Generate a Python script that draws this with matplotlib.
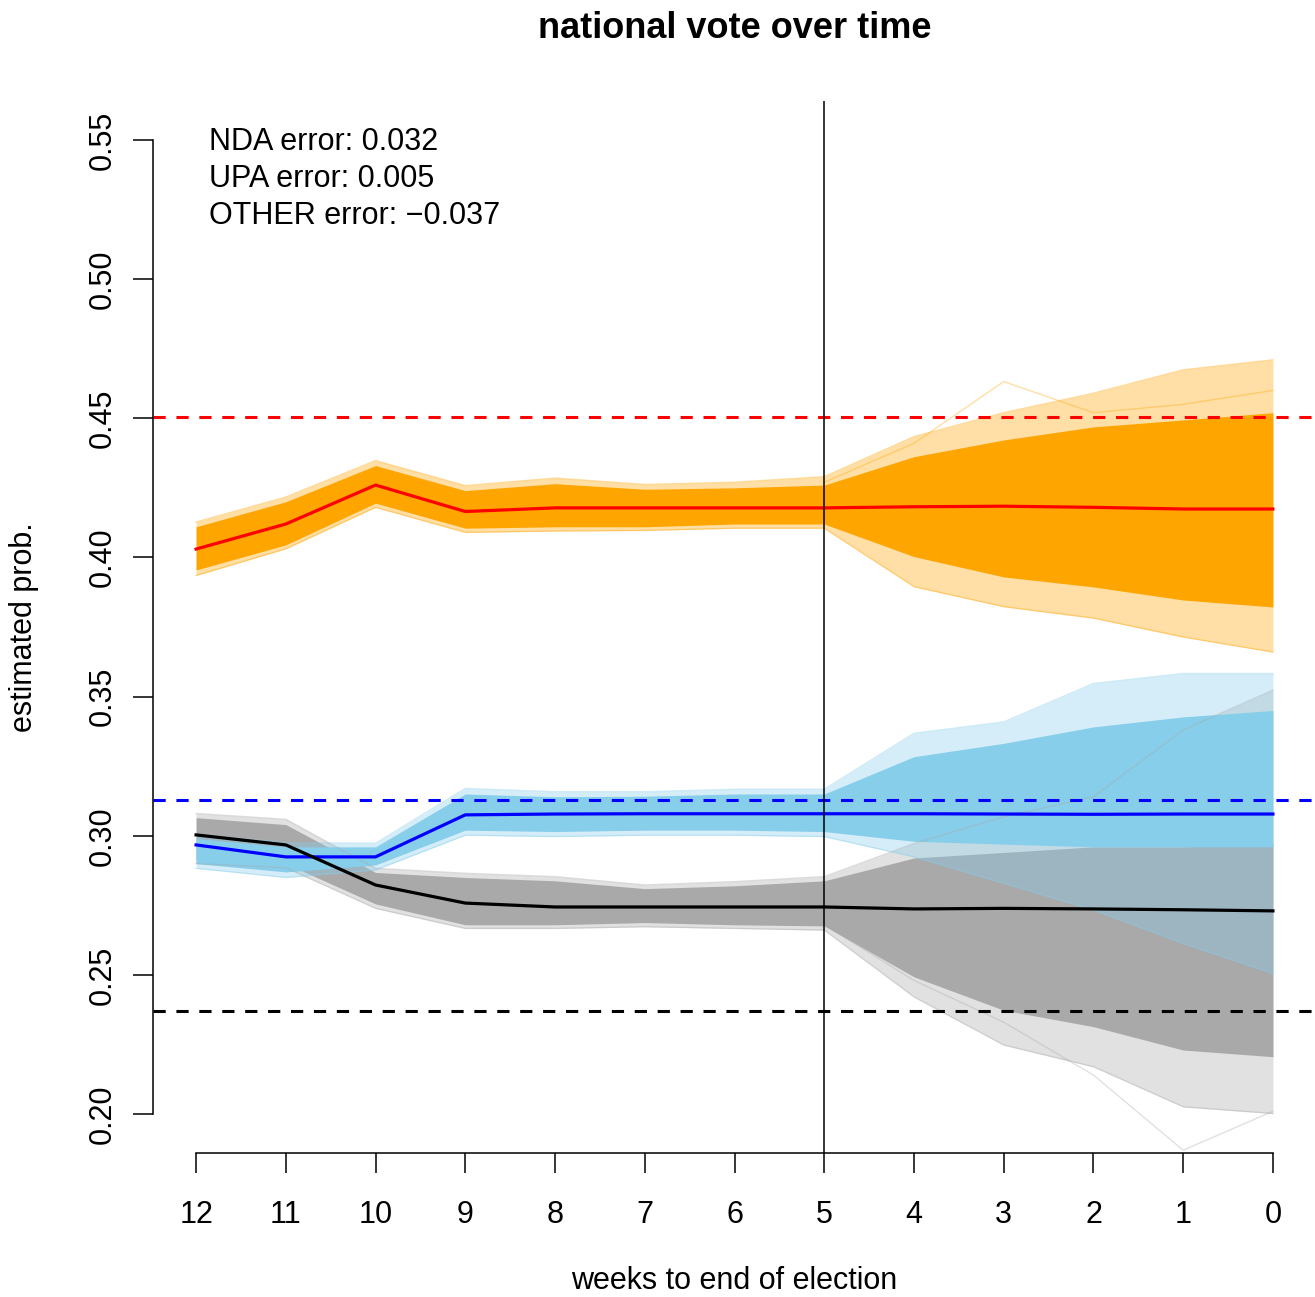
import numpy as np
import matplotlib
matplotlib.use('Agg')
import matplotlib.pyplot as plt

plt.rcParams['font.family'] = ['Liberation Sans', 'DejaVu Sans']

weeks = [12, 11, 10, 9, 8, 7, 6, 5, 4, 3, 2, 1, 0]

# NDA (orange simulations, red mean)
nda_mean = [0.403, 0.412, 0.426, 0.4165, 0.4178, 0.4178, 0.4178, 0.4178, 0.4182, 0.4184, 0.418, 0.4174, 0.4174]
nda_hi = [0.4127, 0.4217, 0.4348, 0.4258, 0.4285, 0.4262, 0.427, 0.429, 0.4434, 0.452, 0.459, 0.4674, 0.471]
nda_lo = [0.3935, 0.4031, 0.418, 0.409, 0.4095, 0.4097, 0.4105, 0.4105, 0.3895, 0.3823, 0.3782, 0.3714, 0.366]
nda_core_hi = [0.411, 0.420, 0.433, 0.424, 0.4265, 0.4245, 0.425, 0.426, 0.4362, 0.4422, 0.4469, 0.4494, 0.452]
nda_core_lo = [0.3955, 0.4045, 0.4195, 0.4105, 0.411, 0.411, 0.412, 0.412, 0.4003, 0.393, 0.3894, 0.3847, 0.3822]
nda_result = 0.4505

# UPA (skyblue simulations, blue mean)
upa_mean = [0.2967, 0.2924, 0.2924, 0.3075, 0.3078, 0.3079, 0.3079, 0.3079, 0.3079, 0.3078, 0.3077, 0.3078, 0.3078]
upa_hi = [0.3005, 0.2975, 0.2973, 0.317, 0.3158, 0.3158, 0.3167, 0.3167, 0.3368, 0.3409, 0.3547, 0.3583, 0.3583]
upa_lo = [0.2883, 0.2850, 0.2877, 0.3002, 0.2997, 0.3002, 0.3002, 0.2997, 0.2924, 0.2829, 0.2733, 0.2613, 0.2505]
upa_core_hi = [0.299, 0.296, 0.296, 0.315, 0.314, 0.3142, 0.315, 0.315, 0.3284, 0.3332, 0.3391, 0.3427, 0.345]
upa_core_lo = [0.290, 0.287, 0.2895, 0.302, 0.3015, 0.302, 0.302, 0.3015, 0.298, 0.297, 0.296, 0.296, 0.296]
upa_result = 0.3128

# OTHER (grey simulations, black mean)
oth_mean = [0.3003, 0.2967, 0.2823, 0.2758, 0.2744, 0.2744, 0.2744, 0.2744, 0.2737, 0.2739, 0.2737, 0.2734, 0.2730]
oth_hi = [0.308, 0.3059, 0.2883, 0.2865, 0.2853, 0.2823, 0.2835, 0.2853, 0.2972, 0.3068, 0.314, 0.338, 0.3523]
oth_lo = [0.290, 0.2885, 0.2739, 0.2667, 0.2667, 0.2673, 0.2667, 0.2661, 0.2421, 0.2248, 0.217, 0.2026, 0.2002]
oth_core_hi = [0.3065, 0.304, 0.2868, 0.285, 0.2838, 0.281, 0.282, 0.2838, 0.292, 0.294, 0.296, 0.296, 0.297]
oth_core_lo = [0.2915, 0.290, 0.2755, 0.268, 0.268, 0.2688, 0.268, 0.2676, 0.2493, 0.2373, 0.2314, 0.223, 0.2206]
oth_result = 0.237

# a few stray simulation paths (weeks 5..0)
stray_weeks = [5, 4, 3, 2, 1, 0]
nda_stray = [0.427, 0.441, 0.4632, 0.452, 0.455, 0.460]
oth_stray = [0.268, 0.248, 0.233, 0.214, 0.187, 0.201]

notes = ["NDA error: 0.032", "UPA error: 0.005", "OTHER error: \u22120.037"]

fig = plt.figure(figsize=(13.15, 12.97), dpi=100)
ax = fig.add_axes([153 / 1315, 1 - 1153 / 1297, 1163 / 1315, 1052 / 1297])


def band(hi, lo, chi, clo, col, core_alpha=1.0):
    ax.fill_between(weeks, lo, hi, color=col, alpha=0.35, lw=0)
    ax.plot(weeks, hi, color=col, alpha=0.4, lw=1)
    ax.plot(weeks, lo, color=col, alpha=0.4, lw=1)
    ax.fill_between(weeks, clo, chi, color=col, alpha=core_alpha, lw=0)


band(nda_hi, nda_lo, nda_core_hi, nda_core_lo, 'orange')
ax.plot(stray_weeks, nda_stray, color='orange', alpha=0.35, lw=1)
band(oth_hi, oth_lo, oth_core_hi, oth_core_lo, 'darkgray')
ax.plot(stray_weeks, oth_stray, color='darkgray', alpha=0.35, lw=1)
band(upa_hi, upa_lo, upa_core_hi, upa_core_lo, 'skyblue')

ax.plot(weeks, nda_mean, color='red', lw=2.3)
ax.plot(weeks, upa_mean, color='blue', lw=2.3)
ax.plot(weeks, oth_mean, color='black', lw=2.3)

for val, col in [(nda_result, 'red'), (upa_result, 'blue'), (oth_result, 'black')]:
    ax.axhline(val, color=col, lw=2.2, dashes=(4, 3.5))
ax.axvline(5, color='black', lw=1.1)

ax.set_xlim(12.48, -0.48)
ax.set_ylim(0.186, 0.564)
for s in ['top', 'right']:
    ax.spines[s].set_visible(False)
ax.spines['left'].set_bounds(0.2, 0.55)
ax.spines['bottom'].set_bounds(0, 12)
for s in ['left', 'bottom']:
    ax.spines[s].set_linewidth(1.1)

ax.set_xticks(weeks)
ax.set_xticklabels([str(w) for w in weeks])
yt = [0.20, 0.25, 0.30, 0.35, 0.40, 0.45, 0.50, 0.55]
ax.set_yticks(yt)
ax.set_yticklabels(['%.2f' % v for v in yt])
ax.tick_params(axis='both', length=14.5, width=1.1, labelsize=22)
ax.tick_params(axis='x', pad=19)
ax.tick_params(axis='y', pad=11)
plt.setp(ax.get_yticklabels(), rotation=90, va='center')

for i, t in enumerate(notes):
    fig.text(209 / 1315, 1 - (150 + 37 * i) / 1297, t, fontsize=22, va='baseline')

fig.text(734.5 / 1315, 1 - 38 / 1297, 'national vote over time', fontsize=26,
         weight='bold', ha='center', va='baseline')
fig.text(734.5 / 1315, 1 - 1289 / 1297, 'weeks to end of election', fontsize=22,
         ha='center', va='baseline')
fig.text(24 / 1315, 1 - 627 / 1297, 'estimated prob.', fontsize=22, rotation=90,
         ha='center', va='center')

plt.savefig('out.png', dpi=100)
plt.close()
